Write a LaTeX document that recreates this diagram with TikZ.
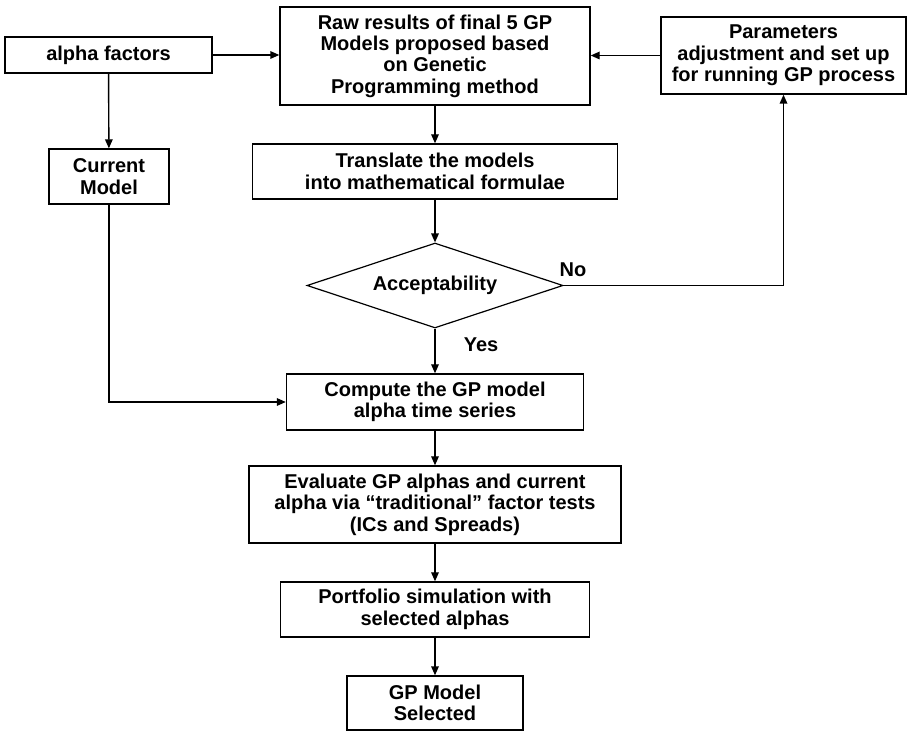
\documentclass[tikz,border=0pt]{standalone}
\usepackage{fontspec}
\setmainfont{Liberation Sans}
\usetikzlibrary{shapes.geometric,arrows.meta}
\begin{document}
\begin{tikzpicture}[x=0.5pt,y=-0.5pt,font=\fontsize{10}{10.7}\selectfont\bfseries]
		% Estilos para os nós
		\tikzstyle{process} = [rectangle, inner sep=0pt, align=center, draw=black, line width=0.7pt]
		\tikzstyle{decision} = [diamond, aspect=3, inner sep=0pt, align=center, draw=black, line width=0.6pt, minimum width=128pt, minimum height=42.5pt]
		\tikzstyle{arrow} = [line width=0.7pt,-{Triangle[length=4.5pt,width=3.8pt]}]
		\useasboundingbox (0,0) rectangle (910,731);
		% Nós
		\node (alpha) [process, minimum width=103.5pt, minimum height=18pt] at (108.5,55) {alpha factors};
		\node (raw) [process, minimum width=155pt, minimum height=49pt] at (435,56) {Raw results of final 5 GP\\Models proposed based\\on Genetic\\Programming method};
		\node (param) [process, minimum width=122.5pt, minimum height=38.5pt] at (783.5,55.5) {Parameters\\adjustment and set up\\for running GP process};
		\node (current) [process, minimum width=60pt, minimum height=27.5pt] at (109,176.5) {Current\\Model};
		\node (translate) [process, minimum width=182.5pt, minimum height=27.5pt] at (435,171.5) {Translate the models\\into mathematical formulae};
		\node (accept) [decision] at (435,285.5) {Acceptability};
		\node (compute) [process, minimum width=148.5pt, minimum height=28pt] at (435,402) {Compute the GP model\\alpha time series};
		\node (evaluate) [process, minimum width=186pt, minimum height=38.5pt] at (435,504.5) {Evaluate GP alphas and current\\alpha via “traditional” factor tests\\(ICs and Spreads)};
		\node (portfolio) [process, minimum width=154.5pt, minimum height=27.5pt] at (435,609.5) {Portfolio simulation with\\selected alphas};
		\node (selected) [process, minimum width=88pt, minimum height=27pt] at (435,703) {GP Model\\Selected};
		\node (yes) at (481,345) {Yes};
		\node (no) at (573,270) {No};
		% Setas
		\draw [arrow] (alpha) -- (alpha -| raw.west);
		\draw [arrow] (param) -- (param -| raw.east);
		\draw [arrow] (alpha) -- (current);
		\draw [arrow] (raw) -- (translate);
		\draw [arrow] (translate) -- (accept);
		\draw [arrow] (accept) -- (compute);
		\draw [arrow] (accept.east) -| (param.south);
		\draw [arrow] (current.south) |- (compute.west);
		\draw [arrow] (compute) -- (evaluate);
		\draw [arrow] (evaluate) -- (portfolio);
		\draw [arrow] (portfolio) -- (selected);
	\end{tikzpicture}
\end{document}
